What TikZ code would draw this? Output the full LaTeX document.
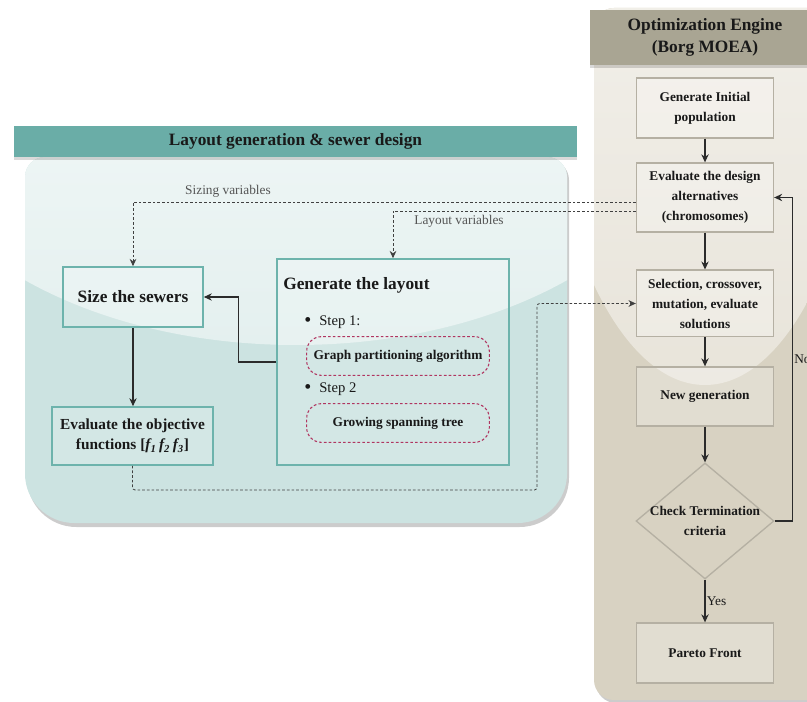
\documentclass[tikz,border=0pt]{standalone}
\usepackage{fontspec}
\setmainfont{Liberation Serif}
\usetikzlibrary{arrows.meta,shapes.geometric}
\definecolor{headteal}{HTML}{6AADA7}
\definecolor{bodyteal}{HTML}{CCE3E1}
\definecolor{lightteal}{HTML}{E4F0EF}
\definecolor{boxteal}{HTML}{6DB3AC}
\definecolor{headsand}{HTML}{A9A593}
\definecolor{bodysand}{HTML}{D8D2C2}
\definecolor{lightsand}{HTML}{E8E4DA}
\definecolor{boxsand}{HTML}{B5B0A3}
\definecolor{stepred}{HTML}{B03560}
\definecolor{inkgray}{HTML}{2B2B2B}
\tikzset{sewerbox/.style={draw=boxteal, line width=1.2pt, fill=white, fill opacity=0.15, text opacity=1, inner sep=0pt, align=center}}
\tikzset{moeabox/.style={draw=boxsand, line width=1pt, fill=white, fill opacity=0.25, text opacity=1, minimum width=102.75pt, inner sep=0pt, align=center, font=\fontsize{10}{15}\selectfont\bfseries}}
\tikzset{stepbox/.style={draw=stepred, line width=0.8pt, dash pattern=on 2pt off 1.6pt, rounded corners=11pt, minimum width=137pt, minimum height=29pt, font=\fontsize{10}{12}\selectfont\bfseries}}
\tikzset{flow/.style={draw=inkgray, line width=0.9pt, -{Stealth[length=6pt,width=5.5pt]}}}
\tikzset{varline/.style={draw=inkgray!90, line width=0.6pt, dash pattern=on 2pt off 1.5pt, -{Stealth[length=5.5pt,width=5pt]}}}
\tikzset{varlabel/.style={text=inkgray!80, font=\fontsize{10}{12}\selectfont}}
\tikzset{decision/.style={diamond, draw=boxsand, line width=1pt, minimum width=103.5pt, minimum height=87pt, inner sep=0pt}}
\tikzset{panelhead/.style={inner sep=0pt, align=center, font=\fontsize{13}{17}\selectfont\bfseries}}
\newcommand{\stepdot}{{\fontsize{15}{13}\selectfont\raisebox{-0.6pt}{\textbullet}}\hspace{6pt}}

\begin{document}
\begin{tikzpicture}[x=0.75pt, y=-0.75pt, text=black!90]
\useasboundingbox (0,0) rectangle (807,702);

% left panel
\fill[black, opacity=0.2] (296,160) [rounded corners=15pt] -- (569,160) [rounded corners=37pt] -- (569,527) -- (27,527) [rounded corners=15pt] -- (27,160) -- cycle;
\fill[bodyteal] (296,157) [rounded corners=15pt] -- (567,157) [rounded corners=37pt] -- (567,523) -- (25,523) [rounded corners=15pt] -- (25,157) -- cycle;
\begin{scope}
\clip (296,157) [rounded corners=15pt] -- (567,157) [rounded corners=37pt] -- (567,523) -- (25,523) [rounded corners=15pt] -- (25,157) -- cycle;
\shade[top color=white!85!lightteal, bottom color=lightteal] (296,100) ellipse [x radius=400, y radius=245];
\end{scope}
\fill[black, opacity=0.15] (14,129) rectangle (577,160);
\node[panelhead, fill=headteal, minimum width=422.25pt, minimum height=23.25pt] (lhead) at (295.5,141.5) {Layout generation \& sewer design};

% right panel
\fill[black, opacity=0.2] (830,10) [rounded corners=15pt] -- (596,10) -- (596,703) -- (830,703);
\fill[bodysand] (830,8) [rounded corners=15pt] -- (594,8) -- (594,700) -- (830,700);
\begin{scope}
\clip (830,8) [rounded corners=15pt] -- (594,8) -- (594,700) -- (830,700);
\shade[top color=white!80!lightsand, bottom color=lightsand] (705,0) ellipse [x radius=165, y radius=385];
\end{scope}
\fill[black, opacity=0.15] (590,13) rectangle (820,68);
\node[panelhead, fill=headsand, minimum width=172.5pt, minimum height=41.25pt] (rhead) at (705,37.5) {Optimization Engine\\(Borg MOEA)};

% optimization engine
\node[moeabox, minimum height=45pt] (init) at (705,108) {Generate Initial\\population};
\node[moeabox, minimum height=51.75pt] (eval) at (705,197.5) {Evaluate the design\\alternatives\\(chromosomes)};
\node[moeabox, minimum height=50pt] (sel) at (705,303.5) {Selection, crossover,\\mutation, evaluate\\solutions};
\node[moeabox, minimum height=44.25pt] (newgen) at (705,396.5) {New generation};
\node[decision, label={[align=center, font=\fontsize{10}{15}\selectfont\bfseries]center:Check Termination\\criteria}] (check) at (705,521) {};
\node[moeabox, minimum height=45pt] (pareto) at (705,653) {Pareto Front};

% layout generation
\node[sewerbox, minimum width=105pt, minimum height=45pt, font=\fontsize{13}{16}\selectfont\bfseries] (size) at (133,297) {Size the sewers};
\node[sewerbox, minimum width=120.75pt, minimum height=43.5pt, font=\fontsize{11.5}{15}\selectfont\bfseries] (obj) at (132.5,436) {Evaluate the objective\\functions [\textit{f\textsubscript{1}\,f\textsubscript{2}\,f\textsubscript{3}}]};
\node[sewerbox, minimum width=174pt, minimum height=154.5pt] (layout) at (393,362) {};
\node[anchor=west, inner sep=0pt, font=\fontsize{13}{16}\selectfont\bfseries] (laytitle) at (283,285) {Generate the layout};
\node[anchor=west, inner sep=0pt, font=\fontsize{11}{13}\selectfont] (step1) at (304,322) {\stepdot Step 1:};
\node[stepbox] (graph) at (398,356) {Graph partitioning algorithm};
\node[anchor=west, inner sep=0pt, font=\fontsize{11}{13}\selectfont] (step2) at (304,389) {\stepdot Step 2};
\node[stepbox] (grow) at (398,423) {Growing spanning tree};

\node[varlabel] (sizinglabel) at (228,191) {Sizing variables};
\node[varlabel] (layoutlabel) at (459,221) {Layout variables};
\coordinate (loopcorner) at (537,490);

% connectors
\draw[flow] (init) -- (eval);
\draw[flow] (eval) -- (sel);
\draw[flow] (sel) -- (newgen);
\draw[flow] (newgen) -- (check);
\draw[flow] (check) -- node[right, inner sep=1pt, font=\fontsize{10}{12}\selectfont]{Yes} (pareto);
\draw[flow] (check.east) -- ++(18,0) |- node[pos=0.25, right, inner sep=0.8pt, font=\fontsize{10}{12}\selectfont]{No} (eval.east);
\draw[flow] (layout.west) -- ++(-38,0) |- (size.east);
\draw[flow] (size.south) -- (size.south |- obj.north);
\draw[varline] ([yshift=-3.4pt]eval.west) -| (size.north);
\draw[varline] ([yshift=-10.1pt]eval.west) -| (layout.north);
\draw[varline, rounded corners=2pt] (obj.south) |- (loopcorner) |- (sel.west);
\end{tikzpicture}
\end{document}
